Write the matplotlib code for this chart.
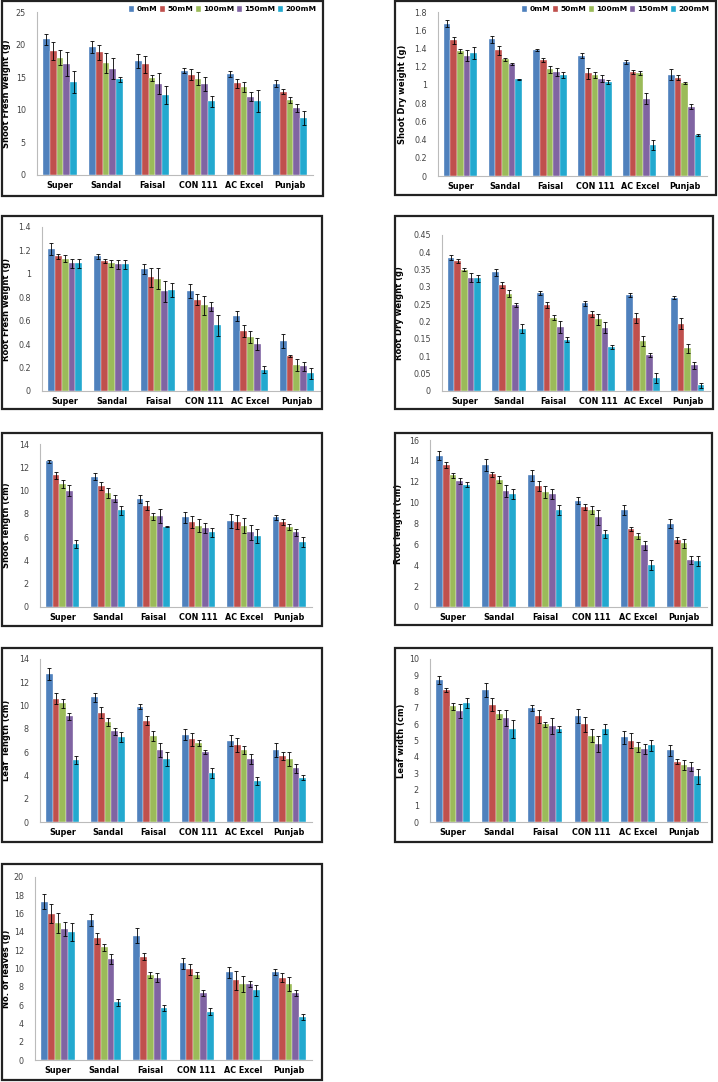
import matplotlib.pyplot as plt
from matplotlib.patches import Rectangle
import numpy as np

W, H = 718, 1082

cultivars = ['Super', 'Sandal', 'Faisal', 'CON 111', 'AC Excel', 'Punjab']
treatments = ['0mM', '50mM', '100mM', '150mM', '200mM']
colors = ['#4F81BD', '#C0504D', '#9BBB59', '#8064A2', '#23A9CF']

# rows = cultivars, columns = treatments
shoot_fw = [[20.8, 19.0, 18.0, 17.0, 14.2],
            [19.6, 18.8, 17.2, 16.3, 14.7],
            [17.5, 17.0, 14.9, 14.0, 12.3],
            [16.0, 15.4, 14.8, 14.0, 11.3],
            [15.5, 14.1, 13.5, 12.0, 11.4],
            [14.0, 12.8, 11.5, 10.3, 8.7]]
shoot_fw_err = [[0.8, 1.4, 1.2, 1.8, 1.7],
                [0.9, 1.2, 1.5, 1.6, 0.4],
                [1.1, 1.3, 0.5, 1.6, 1.4],
                [0.4, 0.8, 1.0, 1.1, 0.8],
                [0.4, 0.7, 0.8, 0.7, 1.7],
                [0.5, 0.4, 0.4, 0.6, 1.1]]

shoot_dw = [[1.67, 1.49, 1.37, 1.32, 1.35],
            [1.50, 1.38, 1.28, 1.23, 1.06],
            [1.38, 1.27, 1.17, 1.14, 1.11],
            [1.32, 1.13, 1.11, 1.07, 1.03],
            [1.25, 1.14, 1.13, 0.85, 0.34],
            [1.11, 1.08, 1.02, 0.76, 0.45]]
shoot_dw_err = [[0.04, 0.04, 0.02, 0.06, 0.07],
                [0.04, 0.05, 0.02, 0.01, 0.01],
                [0.01, 0.02, 0.04, 0.04, 0.03],
                [0.03, 0.06, 0.03, 0.04, 0.02],
                [0.02, 0.02, 0.02, 0.06, 0.06],
                [0.06, 0.03, 0.01, 0.03, 0.01]]

root_fw = [[1.21, 1.15, 1.13, 1.09, 1.09],
           [1.15, 1.11, 1.09, 1.08, 1.08],
           [1.04, 0.97, 0.96, 0.85, 0.86],
           [0.85, 0.78, 0.73, 0.72, 0.56],
           [0.64, 0.51, 0.46, 0.40, 0.18],
           [0.43, 0.30, 0.22, 0.21, 0.15]]
root_fw_err = [[0.05, 0.02, 0.03, 0.04, 0.04],
               [0.02, 0.02, 0.03, 0.04, 0.04],
               [0.04, 0.08, 0.09, 0.09, 0.06],
               [0.06, 0.05, 0.08, 0.04, 0.09],
               [0.04, 0.05, 0.05, 0.05, 0.03],
               [0.06, 0.01, 0.05, 0.04, 0.05]]

root_dw = [[0.385, 0.375, 0.350, 0.327, 0.325],
           [0.343, 0.305, 0.280, 0.248, 0.180],
           [0.283, 0.248, 0.212, 0.185, 0.148],
           [0.253, 0.222, 0.207, 0.183, 0.127],
           [0.276, 0.211, 0.145, 0.104, 0.037],
           [0.269, 0.194, 0.124, 0.074, 0.016]]
root_dw_err = [[0.008, 0.007, 0.005, 0.013, 0.010],
               [0.010, 0.008, 0.010, 0.007, 0.012],
               [0.005, 0.008, 0.006, 0.017, 0.007],
               [0.008, 0.008, 0.016, 0.016, 0.005],
               [0.006, 0.015, 0.014, 0.005, 0.014],
               [0.004, 0.016, 0.013, 0.011, 0.006]]

shoot_len = [[12.5, 11.3, 10.6, 10.0, 5.4],
             [11.2, 10.4, 9.8, 9.3, 8.3],
             [9.3, 8.7, 7.8, 7.8, 6.9],
             [7.7, 7.3, 7.0, 6.8, 6.4],
             [7.4, 7.3, 7.0, 6.4, 6.1],
             [7.7, 7.3, 6.9, 6.4, 5.6]]
shoot_len_err = [[0.15, 0.3, 0.35, 0.5, 0.35],
                 [0.3, 0.35, 0.45, 0.3, 0.4],
                 [0.35, 0.4, 0.3, 0.6, 0.05],
                 [0.5, 0.5, 0.55, 0.45, 0.4],
                 [0.6, 0.6, 0.65, 0.65, 0.6],
                 [0.2, 0.25, 0.25, 0.3, 0.45]]

root_len = [[14.5, 13.6, 12.6, 12.1, 11.7],
            [13.6, 12.7, 12.2, 11.1, 10.8],
            [12.6, 11.6, 11.0, 10.8, 9.3],
            [10.2, 9.6, 9.3, 8.6, 7.0],
            [9.3, 7.5, 6.8, 5.9, 4.0],
            [8.0, 6.4, 6.1, 4.5, 4.4]]
root_len_err = [[0.4, 0.3, 0.2, 0.3, 0.25],
                [0.55, 0.2, 0.35, 0.6, 0.5],
                [0.5, 0.5, 0.55, 0.5, 0.45],
                [0.35, 0.3, 0.4, 0.7, 0.4],
                [0.5, 0.2, 0.25, 0.45, 0.5],
                [0.45, 0.3, 0.4, 0.35, 0.45]]

leaf_len = [[12.7, 10.6, 10.2, 9.1, 5.3],
            [10.7, 9.4, 8.6, 7.8, 7.3],
            [9.9, 8.7, 7.4, 6.2, 5.4],
            [7.5, 7.1, 6.8, 6.0, 4.2],
            [7.0, 6.6, 6.2, 5.4, 3.5],
            [6.2, 5.7, 5.4, 4.6, 3.8]]
leaf_len_err = [[0.5, 0.5, 0.4, 0.3, 0.35],
                [0.4, 0.5, 0.35, 0.3, 0.45],
                [0.2, 0.4, 0.4, 0.6, 0.6],
                [0.45, 0.55, 0.25, 0.2, 0.45],
                [0.5, 0.6, 0.35, 0.4, 0.35],
                [0.6, 0.35, 0.6, 0.4, 0.2]]

leaf_wid = [[8.7, 8.1, 7.1, 6.8, 7.3],
            [8.1, 7.2, 6.6, 6.4, 5.7],
            [7.0, 6.5, 6.0, 5.9, 5.7],
            [6.5, 6.0, 5.3, 4.8, 5.7],
            [5.2, 5.0, 4.6, 4.5, 4.7],
            [4.4, 3.7, 3.5, 3.4, 2.8]]
leaf_wid_err = [[0.25, 0.1, 0.2, 0.45, 0.3],
                [0.45, 0.4, 0.3, 0.5, 0.55],
                [0.2, 0.4, 0.15, 0.5, 0.2],
                [0.45, 0.45, 0.4, 0.5, 0.3],
                [0.4, 0.45, 0.3, 0.3, 0.35],
                [0.35, 0.15, 0.3, 0.3, 0.45]]

leaves = [[17.3, 16.0, 15.0, 14.3, 14.0],
          [15.3, 13.3, 12.3, 11.0, 6.3],
          [13.6, 11.3, 9.3, 9.0, 5.7],
          [10.6, 9.9, 9.3, 7.3, 5.3],
          [9.6, 8.7, 8.3, 8.3, 7.6],
          [9.6, 9.0, 8.3, 7.3, 4.7]]
leaves_err = [[0.8, 1.0, 1.1, 0.8, 1.0],
              [0.65, 0.6, 0.35, 0.55, 0.35],
              [0.8, 0.35, 0.35, 0.5, 0.3],
              [0.6, 0.6, 0.35, 0.3, 0.35],
              [0.6, 1.0, 0.85, 0.3, 0.6],
              [0.3, 0.5, 0.8, 0.3, 0.3]]

# (data, err, ylabel, ymax, ystep, legend,
#  plot area px (l, t, r, b), frame px (l, t, r, b), ylabel x px)
panels = [
    (shoot_fw, shoot_fw_err, 'Shoot Fresh weight (g)', 25, 5, True,
     (37, 12, 313, 175), (2, 1, 323, 196), 11),
    (shoot_dw, shoot_dw_err, 'Shoot Dry weight (g)', 1.8, 0.2, True,
     (438, 12, 707, 176), (395, 1, 716, 195), 407),
    (root_fw, root_fw_err, 'Root Fresh weight (g)', 1.4, 0.2, False,
     (42, 227, 320, 391), (2, 216, 322, 409), 11),
    (root_dw, root_dw_err, 'Root Dry weight (g)', 0.45, 0.05, False,
     (442, 235, 710, 391), (395, 216, 713, 409), 404),
    (shoot_len, shoot_len_err, 'Shoot length (cm)', 14, 2, False,
     (40, 444, 312, 607), (2, 433, 322, 626), 11),
    (root_len, root_len_err, 'Root length (cm)', 16, 2, False,
     (430, 440, 707, 607), (395, 433, 712, 625), 403),
    (leaf_len, leaf_len_err, 'Leaf  length (cm)', 14, 2, False,
     (40, 659, 312, 822), (2, 648, 322, 842), 11),
    (leaf_wid, leaf_wid_err, 'Leaf width (cm)', 10, 1, False,
     (430, 659, 707, 822), (395, 648, 712, 842), 406),
    (leaves, leaves_err, 'No. of leaves (g)', 20, 2, False,
     (35, 877, 312, 1060), (2, 864, 322, 1080), 11),
]

fig = plt.figure(figsize=(W / 100, H / 100), dpi=100)
fig.patch.set_facecolor('white')

x = np.arange(len(cultivars))
bw = 0.148

for data, err, ylab, ymax, ystep, show_leg, area, frame, ylx in panels:
    # frame around each chart
    fl, ft, fr, fb = frame
    fig.patches.append(Rectangle((fl / W, 1 - fb / H), (fr - fl) / W, (fb - ft) / H,
                                 transform=fig.transFigure, fill=False,
                                 edgecolor='#222222', linewidth=1.6, zorder=0))
    l, t, r, b = area
    ax = fig.add_axes([l / W, 1 - b / H, (r - l) / W, (b - t) / H])
    vals = np.array(data)
    errs = np.array(err)
    for j in range(len(treatments)):
        ax.bar(x + (j - 2) * bw, vals[:, j], bw, color=colors[j],
               edgecolor='white', linewidth=0.25, label=treatments[j], zorder=2)
        ax.errorbar(x + (j - 2) * bw, vals[:, j], yerr=errs[:, j], fmt='none',
                    ecolor='black', elinewidth=0.6, capsize=1.5, capthick=0.6,
                    zorder=3)
    ticks = np.arange(0, ymax + ystep / 2, ystep)
    ax.set_xlim(-0.5, len(cultivars) - 0.5)
    ax.set_ylim(0, ymax)
    ax.set_yticks(ticks)
    ax.set_yticklabels(['%g' % round(v, 2) for v in ticks])
    ax.set_xticks(x)
    ax.set_xticklabels(cultivars, fontweight='bold', fontsize=5.8)
    ax.tick_params(axis='y', length=0, labelsize=5.8, labelcolor='#444444', pad=8)
    ax.tick_params(axis='x', length=0, pad=4)
    for s in ['top', 'right']:
        ax.spines[s].set_visible(False)
    for s in ['left', 'bottom']:
        ax.spines[s].set_color('#BBBBBB')
        ax.spines[s].set_linewidth(0.8)
    ax.set_ylabel(ylab, fontsize=6, fontweight='bold')
    ax.yaxis.set_label_coords((ylx - l) / (r - l), 0.5)
    if show_leg:
        ax.legend(loc='upper right', bbox_to_anchor=((fr - 2 - l) / (r - l), 1 + (t - 1) / (b - t)),
                  ncol=5, frameon=False, prop={'weight': 'bold', 'size': 5.4},
                  handlelength=0.7, handleheight=0.9, handletextpad=0.3,
                  columnspacing=0.35, borderaxespad=0.2)

fig.savefig('out.png', dpi=100)
